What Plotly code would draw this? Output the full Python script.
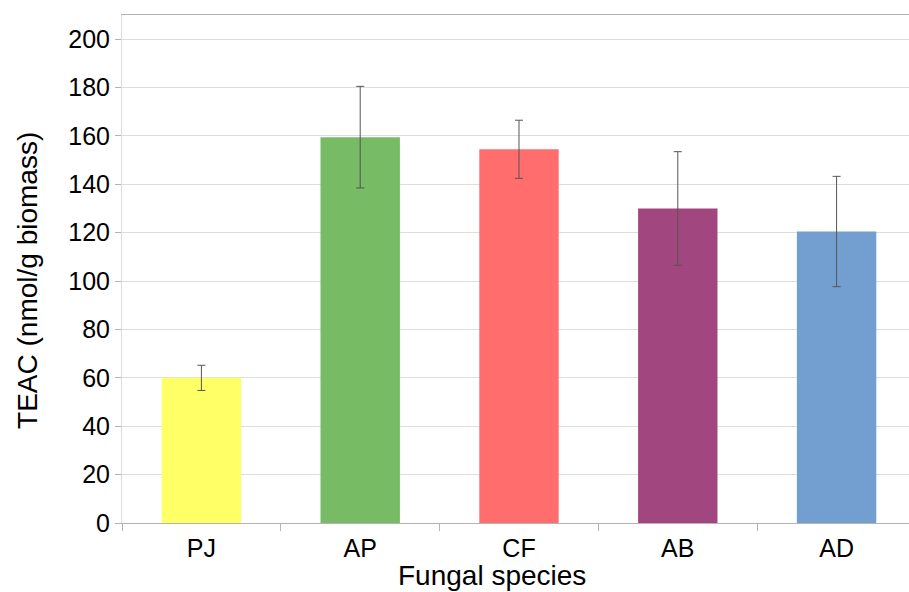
import plotly.graph_objects as go

species = ["PJ", "AP", "CF", "AB", "AD"]
teac = [60, 159.5, 154.5, 130, 120.5]
err_plus = [5.2, 21, 12, 23.5, 22.8]
err_minus = [5.2, 21, 12, 23.5, 22.8]
colors = ["#ffff66", "#77bc65", "#ff6d6d", "#a1467e", "#729fcf"]
y_ticks = [0, 20, 40, 60, 80, 100, 120, 140, 160, 180, 200]
x_title = "Fungal species"
y_title = "TEAC (nmol/g biomass)"

FONT = "Liberation Sans, Arial, sans-serif"

fig = go.Figure(
    go.Bar(
        x=species,
        y=teac,
        marker=dict(color=colors, line=dict(width=0)),
        error_y=dict(
            type="data",
            symmetric=False,
            array=err_plus,
            arrayminus=err_minus,
            color="#555555",
            thickness=1,
            width=4,
        ),
    )
)

fig.update_layout(
    width=909,
    height=592,
    margin=dict(l=122, r=0, t=15, b=69),
    paper_bgcolor="white",
    plot_bgcolor="white",
    bargap=0.5,
    showlegend=False,
    font=dict(family=FONT, color="black"),
    annotations=[
        dict(text=x_title, xref="paper", yref="paper", x=0.47, y=-0.104,
             xanchor="center", yanchor="middle", showarrow=False,
             font=dict(size=28)),
        dict(text=y_title, xref="paper", yref="paper", x=-0.121, y=0.478,
             xanchor="center", yanchor="middle", showarrow=False,
             textangle=-90, font=dict(size=28)),
    ],
)

fig.update_xaxes(
    type="category",
    range=[-0.5, 4.456],
    tickson="boundaries",
    ticks="outside",
    ticklen=7,
    tickcolor="#b3b3b3",
    showgrid=False,
    showline=True,
    linecolor="#b3b3b3",
    linewidth=1,
    mirror=True,
    tickfont=dict(size=25),
    ticklabelstandoff=3,
)

fig.update_yaxes(
    range=[0, 210],
    tickvals=y_ticks,
    ticks="outside",
    ticklen=6,
    tickcolor="#b3b3b3",
    showgrid=True,
    gridcolor="#dddddd",
    gridwidth=1,
    zeroline=False,
    showline=True,
    linecolor="#dddddd",
    linewidth=1,
    tickfont=dict(size=25),
)

fig.write_html("out.html")
